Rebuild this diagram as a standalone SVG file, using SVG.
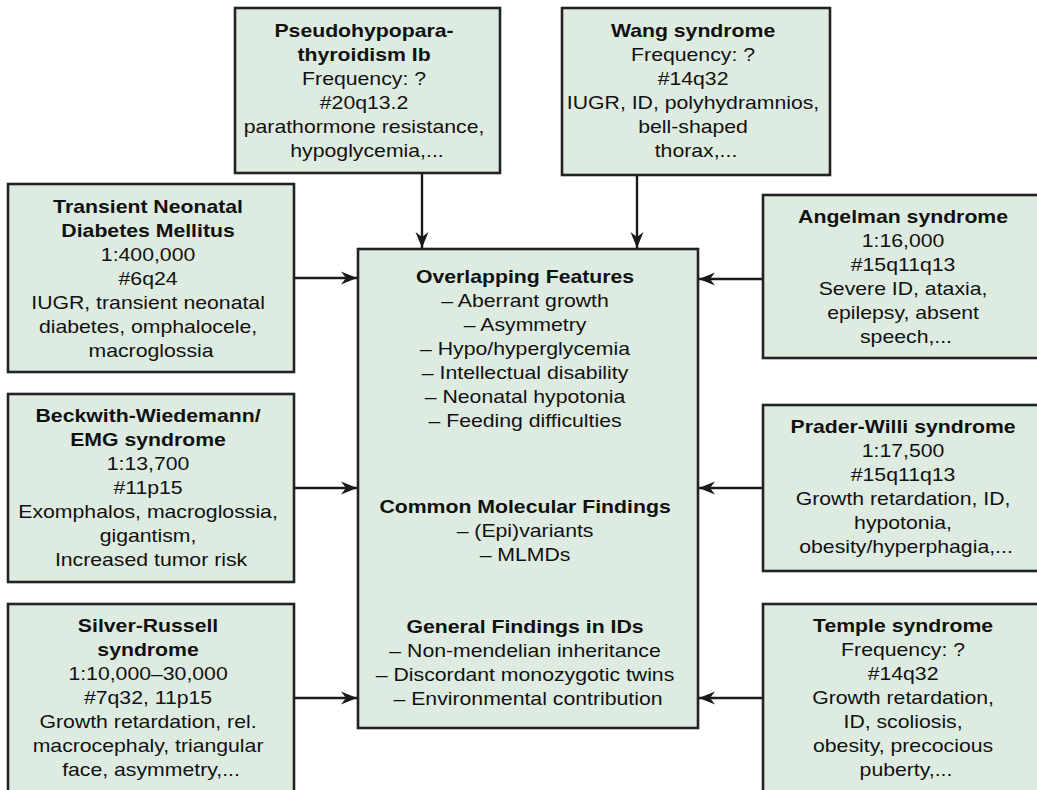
<svg xmlns="http://www.w3.org/2000/svg" width="1037" height="790" viewBox="0 0 1037 790">
<defs>
<style>
.box{fill:#deebe0;stroke:#232323;stroke-width:2.6}
.t{font-family:"Liberation Sans",Arial,Helvetica,sans-serif;font-size:18px;fill:#111;text-anchor:middle}
.b{font-weight:bold}
.c{stroke:#1a1a1a;stroke-width:2.4;fill:none;marker-end:url(#ah)}
</style>
<marker id="ah" markerUnits="userSpaceOnUse" markerWidth="18" markerHeight="15" refX="16" refY="7" orient="auto">
<path d="M0,0.5 L16,7 L0,13.5 L5,7 Z" fill="#1a1a1a"/>
</marker>
</defs>
<rect width="1037" height="790" fill="#fff"/>

<g id="connectors">
<line class="c" x1="422" y1="173" x2="422" y2="248"/>
<line class="c" x1="637" y1="175" x2="637" y2="248"/>
<line class="c" x1="294" y1="278" x2="357" y2="278"/>
<line class="c" x1="294" y1="488" x2="357" y2="488"/>
<line class="c" x1="294" y1="698" x2="357" y2="698"/>
<line class="c" x1="763" y1="279" x2="699" y2="279"/>
<line class="c" x1="763" y1="488" x2="699" y2="488"/>
<line class="c" x1="763" y1="698" x2="699" y2="698"/>
</g>

<g id="center">
<rect class="box" x="358" y="249" width="340" height="479"/>
<g transform="translate(528 0) scale(1.18 1)">
<text class="t">
<tspan x="0" y="283" class="b">Overlapping Features</tspan>
<tspan x="0" y="307">– Aberrant growth</tspan>
<tspan x="0" y="331">– Asymmetry</tspan>
<tspan x="0" y="355">– Hypo/hyperglycemia</tspan>
<tspan x="0" y="379">– Intellectual disability</tspan>
<tspan x="0" y="403">– Neonatal hypotonia</tspan>
<tspan x="0" y="427">– Feeding difficulties</tspan>
<tspan x="0" y="513" class="b">Common Molecular Findings</tspan>
<tspan x="0" y="537">– (Epi)variants</tspan>
<tspan x="0" y="561">– MLMDs</tspan>
<tspan x="0" y="633" class="b">General Findings in IDs</tspan>
<tspan x="0" y="657">– Non-mendelian inheritance</tspan>
<tspan x="0" y="681">– Discordant monozygotic twins</tspan>
<tspan x="0" y="705">– Environmental contribution</tspan>
</text>
</g>
</g>

<g id="pseudohypoparathyroidism">
<rect class="box" x="235" y="8" width="265" height="165"/>
<g transform="translate(367 0) scale(1.18 1)">
<text class="t">
<tspan x="0" y="37" class="b">Pseudohypopara-</tspan>
<tspan x="0" y="61" class="b">thyroidism Ib</tspan>
<tspan x="0" y="85">Frequency: ?</tspan>
<tspan x="0" y="109">#20q13.2</tspan>
<tspan x="0" y="133">parathormone resistance,</tspan>
<tspan x="0" y="157">hypoglycemia,...</tspan>
</text>
</g>
</g>

<g id="wang">
<rect class="box" x="562" y="8" width="268" height="167"/>
<g transform="translate(696 0) scale(1.18 1)">
<text class="t">
<tspan x="0" y="37" class="b">Wang syndrome</tspan>
<tspan x="0" y="61">Frequency: ?</tspan>
<tspan x="0" y="85">#14q32</tspan>
<tspan x="0" y="109">IUGR, ID, polyhydramnios,</tspan>
<tspan x="0" y="133">bell-shaped</tspan>
<tspan x="0" y="157">thorax,...</tspan>
</text>
</g>
</g>

<g id="tndm">
<rect class="box" x="8" y="184" width="286" height="188"/>
<g transform="translate(151 0) scale(1.18 1)">
<text class="t">
<tspan x="0" y="213" class="b">Transient Neonatal</tspan>
<tspan x="0" y="237" class="b">Diabetes Mellitus</tspan>
<tspan x="0" y="261">1:400,000</tspan>
<tspan x="0" y="285">#6q24</tspan>
<tspan x="0" y="309">IUGR, transient neonatal</tspan>
<tspan x="0" y="333">diabetes, omphalocele,</tspan>
<tspan x="0" y="357">macroglossia</tspan>
</text>
</g>
</g>

<g id="bws">
<rect class="box" x="8" y="394" width="286" height="188"/>
<g transform="translate(151 0) scale(1.18 1)">
<text class="t">
<tspan x="0" y="422" class="b">Beckwith-Wiedemann/</tspan>
<tspan x="0" y="446" class="b">EMG syndrome</tspan>
<tspan x="0" y="470">1:13,700</tspan>
<tspan x="0" y="494">#11p15</tspan>
<tspan x="0" y="518">Exomphalos, macroglossia,</tspan>
<tspan x="0" y="542">gigantism,</tspan>
<tspan x="0" y="566">Increased tumor risk</tspan>
</text>
</g>
</g>

<g id="srs">
<rect class="box" x="8" y="604" width="286" height="200"/>
<g transform="translate(151 0) scale(1.18 1)">
<text class="t">
<tspan x="0" y="632" class="b">Silver-Russell</tspan>
<tspan x="0" y="656" class="b">syndrome</tspan>
<tspan x="0" y="680">1:10,000–30,000</tspan>
<tspan x="0" y="704">#7q32, 11p15</tspan>
<tspan x="0" y="728">Growth retardation, rel.</tspan>
<tspan x="0" y="752">macrocephaly, triangular</tspan>
<tspan x="0" y="776">face, asymmetry,...</tspan>
</text>
</g>
</g>

<g id="angelman">
<rect class="box" x="763" y="195" width="290" height="163"/>
<g transform="translate(906 0) scale(1.18 1)">
<text class="t">
<tspan x="0" y="223" class="b">Angelman syndrome</tspan>
<tspan x="0" y="247">1:16,000</tspan>
<tspan x="0" y="271">#15q11q13</tspan>
<tspan x="0" y="295">Severe ID, ataxia,</tspan>
<tspan x="0" y="319">epilepsy, absent</tspan>
<tspan x="0" y="343">speech,...</tspan>
</text>
</g>
</g>

<g id="praderwilli">
<rect class="box" x="763" y="405" width="290" height="166"/>
<g transform="translate(906 0) scale(1.18 1)">
<text class="t">
<tspan x="0" y="433" class="b">Prader-Willi syndrome</tspan>
<tspan x="0" y="457">1:17,500</tspan>
<tspan x="0" y="481">#15q11q13</tspan>
<tspan x="0" y="505">Growth retardation, ID,</tspan>
<tspan x="0" y="529">hypotonia,</tspan>
<tspan x="0" y="553">obesity/hyperphagia,...</tspan>
</text>
</g>
</g>

<g id="temple">
<rect class="box" x="763" y="604" width="290" height="200"/>
<g transform="translate(906 0) scale(1.18 1)">
<text class="t">
<tspan x="0" y="632" class="b">Temple syndrome</tspan>
<tspan x="0" y="656">Frequency: ?</tspan>
<tspan x="0" y="680">#14q32</tspan>
<tspan x="0" y="704">Growth retardation,</tspan>
<tspan x="0" y="728">ID, scoliosis,</tspan>
<tspan x="0" y="752">obesity, precocious</tspan>
<tspan x="0" y="776">puberty,...</tspan>
</text>
</g>
</g>
</svg>
